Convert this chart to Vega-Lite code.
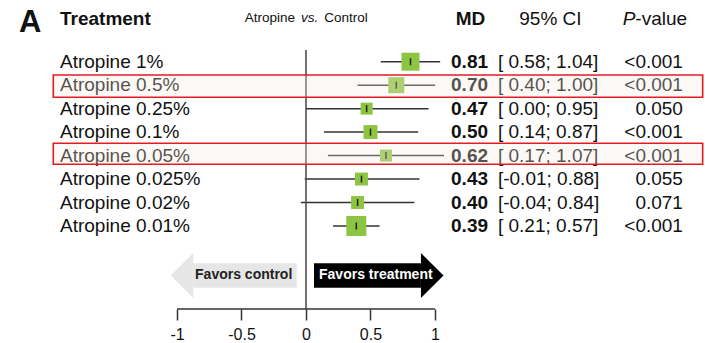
{
  "$schema": "https://vega.github.io/schema/vega-lite/v6.json",
  "width": 705,
  "height": 309,
  "autosize": {"type": "none"},
  "padding": {"left": 0, "top": 0, "right": 0, "bottom": 34},
  "background": "white",
  "config": {
    "view": {"stroke": null},
    "text": {"font": "Liberation Sans"},
    "axis": {"labelFont": "Liberation Sans"}
  },
  "datasets": {
    "rows": [
      {"row": 0, "label": "Atropine 1%", "md": 0.81, "lo": 0.58, "hi": 1.04, "ci": "[ 0.58; 1.04]", "p": "<0.001", "weight": 20.2},
      {"row": 1, "label": "Atropine 0.5%", "md": 0.70, "lo": 0.40, "hi": 1.00, "ci": "[ 0.40; 1.00]", "p": "<0.001", "weight": 16.0},
      {"row": 2, "label": "Atropine 0.25%", "md": 0.47, "lo": 0.00, "hi": 0.95, "ci": "[ 0.00; 0.95]", "p": "0.050", "weight": 9.0},
      {"row": 3, "label": "Atropine 0.1%", "md": 0.50, "lo": 0.14, "hi": 0.87, "ci": "[ 0.14; 0.87]", "p": "<0.001", "weight": 12.2},
      {"row": 4, "label": "Atropine 0.05%", "md": 0.62, "lo": 0.17, "hi": 1.07, "ci": "[ 0.17; 1.07]", "p": "<0.001", "weight": 9.0},
      {"row": 5, "label": "Atropine 0.025%", "md": 0.43, "lo": -0.01, "hi": 0.88, "ci": "[-0.01; 0.88]", "p": "0.055", "weight": 10.5},
      {"row": 6, "label": "Atropine 0.02%", "md": 0.40, "lo": -0.04, "hi": 0.84, "ci": "[-0.04; 0.84]", "p": "0.071", "weight": 10.5},
      {"row": 7, "label": "Atropine 0.01%", "md": 0.39, "lo": 0.21, "hi": 0.57, "ci": "[ 0.21; 0.57]", "p": "<0.001", "weight": 25.0}
    ],
    "arrowBodies": [
      {"side": "control", "x1": -0.874, "x2": -0.072, "top": 8.59, "bot": 9.633},
      {"side": "treatment", "x1": 0.062, "x2": 0.891, "top": 8.59, "bot": 9.633}
    ],
    "arrowHeads": [
      {"side": "control", "x": -1.049, "top": 9.109, "bot": 9.109},
      {"side": "control", "x": -0.874, "top": 8.151, "bot": 10.068},
      {"side": "treatment", "x": 0.891, "top": 8.151, "bot": 10.068},
      {"side": "treatment", "x": 1.066, "top": 9.109, "bot": 9.109}
    ],
    "highlights": [
      {"x1": -1.959, "x2": 3.075, "y1": 0.567, "y2": 1.517},
      {"x1": -1.959, "x2": 3.075, "y1": 3.477, "y2": 4.372}
    ],
    "one": [{}]
  },
  "layer": [
    {
      "data": {"name": "rows"},
      "mark": {"type": "rule", "color": "#333333", "strokeWidth": 1.5},
      "encoding": {
        "x": {
          "field": "lo", "type": "quantitative",
          "scale": {"domain": [-2.372, 3.093], "nice": false, "zero": false},
          "axis": {
            "title": null, "domain": false, "grid": false,
            "values": [-1, -0.5, 0, 0.5, 1],
            "format": "~g",
            "labelExpr": "replace(datum.label, '\u2212', '-')",
            "tickSize": 11, "tickWidth": 1.5, "tickColor": "#333333",
            "labelFontSize": 16, "labelColor": "#111111", "labelPadding": 6,
            "labelFlush": false, "labelOverlap": false
          }
        },
        "x2": {"field": "hi"},
        "y": {"field": "row", "type": "quantitative", "scale": {"domain": [-2.629, 10.537], "reverse": true, "nice": false, "zero": false}, "axis": null}
      }
    },
    {
      "data": {"name": "rows"},
      "mark": {"type": "point", "shape": "square", "filled": true, "color": "#8dc543", "opacity": 1},
      "encoding": {
        "x": {"field": "md", "type": "quantitative", "title": null},
        "y": {"field": "row", "type": "quantitative", "axis": null},
        "size": {"field": "weight", "type": "quantitative", "scale": {"domain": [0, 25], "range": [0, 400], "zero": true}, "legend": null}
      }
    },
    {
      "data": {"name": "rows"},
      "mark": {"type": "tick", "orient": "vertical", "size": 7, "thickness": 1.5, "color": "#222222", "opacity": 1},
      "encoding": {
        "x": {"field": "md", "type": "quantitative", "title": null},
        "y": {"field": "row", "type": "quantitative", "axis": null}
      }
    },
    {
      "data": {"name": "rows"},
      "mark": {"type": "text", "align": "left", "baseline": "middle", "fontSize": 19, "color": "#111111"},
      "encoding": {
        "x": {"datum": -1.907, "type": "quantitative"},
        "y": {"field": "row", "type": "quantitative", "axis": null},
        "text": {"field": "label"}
      }
    },
    {
      "data": {"name": "rows"},
      "mark": {"type": "text", "align": "right", "baseline": "middle", "fontSize": 19, "fontWeight": "bold", "color": "#111111"},
      "encoding": {
        "x": {"datum": 1.411, "type": "quantitative"},
        "y": {"field": "row", "type": "quantitative", "axis": null},
        "text": {"field": "md", "format": ".2f"}
      }
    },
    {
      "data": {"name": "rows"},
      "mark": {"type": "text", "align": "left", "baseline": "middle", "fontSize": 19, "color": "#111111"},
      "encoding": {
        "x": {"datum": 1.488, "type": "quantitative"},
        "y": {"field": "row", "type": "quantitative", "axis": null},
        "text": {"field": "ci"}
      }
    },
    {
      "data": {"name": "rows"},
      "mark": {"type": "text", "align": "right", "baseline": "middle", "fontSize": 19, "color": "#111111"},
      "encoding": {
        "x": {"datum": 2.922, "type": "quantitative"},
        "y": {"field": "row", "type": "quantitative", "axis": null},
        "text": {"field": "p"}
      }
    },
    {
      "data": {"name": "one"},
      "mark": {"type": "rule", "color": "#444444", "strokeWidth": 1.5},
      "encoding": {
        "x": {"datum": 0, "type": "quantitative"},
        "y": {"datum": -0.499, "type": "quantitative", "axis": null},
        "y2": {"datum": 10.537}
      }
    },
    {
      "data": {"name": "one"},
      "mark": {"type": "rule", "color": "#333333", "strokeWidth": 1.5},
      "encoding": {
        "x": {"datum": -1, "type": "quantitative"},
        "x2": {"datum": 1},
        "y": {"datum": 10.537, "type": "quantitative", "axis": null}
      }
    },
    {
      "data": {"name": "arrowBodies"},
      "mark": {"type": "rect", "opacity": 1},
      "encoding": {
        "x": {"field": "x1", "type": "quantitative", "title": null},
        "x2": {"field": "x2"},
        "y": {"field": "top", "type": "quantitative", "axis": null},
        "y2": {"field": "bot"},
        "color": {"field": "side", "type": "nominal", "scale": {"domain": ["control", "treatment"], "range": ["#e6e6e6", "#000000"]}, "legend": null}
      }
    },
    {
      "data": {"name": "arrowHeads"},
      "mark": {"type": "area", "opacity": 1, "orient": "vertical", "interpolate": "linear"},
      "encoding": {
        "x": {"field": "x", "type": "quantitative", "title": null},
        "y": {"field": "top", "type": "quantitative", "axis": null, "stack": null},
        "y2": {"field": "bot"},
        "color": {"field": "side", "type": "nominal", "legend": null}
      }
    },
    {
      "data": {"name": "one"},
      "mark": {"type": "text", "align": "left", "baseline": "middle", "fontSize": 14, "fontWeight": "bold", "color": "#222222"},
      "encoding": {
        "x": {"datum": -0.860, "type": "quantitative"},
        "y": {"datum": 9.109, "type": "quantitative", "axis": null},
        "text": {"value": "Favors control"}
      }
    },
    {
      "data": {"name": "one"},
      "mark": {"type": "text", "align": "left", "baseline": "middle", "fontSize": 14, "fontWeight": "bold", "color": "#ffffff"},
      "encoding": {
        "x": {"datum": 0.101, "type": "quantitative"},
        "y": {"datum": 9.109, "type": "quantitative", "axis": null},
        "text": {"value": "Favors treatment"}
      }
    },
    {
      "data": {"name": "one"},
      "mark": {"type": "text", "align": "left", "baseline": "middle", "fontSize": 31, "fontWeight": "bold", "color": "#111111"},
      "encoding": {
        "x": {"datum": -2.225, "type": "quantitative"},
        "y": {"datum": -1.66, "type": "quantitative", "axis": null},
        "text": {"value": "A"}
      }
    },
    {
      "data": {"name": "one"},
      "mark": {"type": "text", "align": "left", "baseline": "middle", "fontSize": 19, "fontWeight": "bold", "color": "#111111"},
      "encoding": {
        "x": {"datum": -1.907, "type": "quantitative"},
        "y": {"datum": -1.807, "type": "quantitative", "axis": null},
        "text": {"value": "Treatment"}
      }
    },
    {
      "data": {"name": "one"},
      "mark": {"type": "text", "align": "right", "baseline": "middle", "fontSize": 13.5, "color": "#111111"},
      "encoding": {
        "x": {"datum": -0.085, "type": "quantitative"},
        "y": {"datum": -1.849, "type": "quantitative", "axis": null},
        "text": {"value": "Atropine"}
      }
    },
    {
      "data": {"name": "one"},
      "mark": {"type": "text", "align": "left", "baseline": "middle", "fontSize": 13.5, "fontStyle": "italic", "color": "#111111"},
      "encoding": {
        "x": {"datum": -0.039, "type": "quantitative"},
        "y": {"datum": -1.849, "type": "quantitative", "axis": null},
        "text": {"value": "vs."}
      }
    },
    {
      "data": {"name": "one"},
      "mark": {"type": "text", "align": "left", "baseline": "middle", "fontSize": 13.5, "color": "#111111"},
      "encoding": {
        "x": {"datum": 0.142, "type": "quantitative"},
        "y": {"datum": -1.849, "type": "quantitative", "axis": null},
        "text": {"value": "Control"}
      }
    },
    {
      "data": {"name": "one"},
      "mark": {"type": "text", "align": "right", "baseline": "middle", "fontSize": 19, "fontWeight": "bold", "color": "#111111"},
      "encoding": {
        "x": {"datum": 1.39, "type": "quantitative"},
        "y": {"datum": -1.807, "type": "quantitative", "axis": null},
        "text": {"value": "MD"}
      }
    },
    {
      "data": {"name": "one"},
      "mark": {"type": "text", "align": "center", "baseline": "middle", "fontSize": 19, "color": "#111111"},
      "encoding": {
        "x": {"datum": 1.895, "type": "quantitative"},
        "y": {"datum": -1.807, "type": "quantitative", "axis": null},
        "text": {"value": "95% CI"}
      }
    },
    {
      "data": {"name": "one"},
      "mark": {"type": "text", "align": "right", "baseline": "middle", "fontSize": 19, "fontStyle": "italic", "color": "#111111"},
      "encoding": {
        "x": {"datum": 2.553, "type": "quantitative"},
        "y": {"datum": -1.807, "type": "quantitative", "axis": null},
        "text": {"value": "P"}
      }
    },
    {
      "data": {"name": "one"},
      "mark": {"type": "text", "align": "left", "baseline": "middle", "fontSize": 19, "color": "#111111"},
      "encoding": {
        "x": {"datum": 2.553, "type": "quantitative"},
        "y": {"datum": -1.807, "type": "quantitative", "axis": null},
        "text": {"value": "-value"}
      }
    },
    {
      "data": {"name": "highlights"},
      "mark": {"type": "rect", "fill": "#f5e8de", "fillOpacity": 0.3, "stroke": "#e31b23", "strokeOpacity": 1, "strokeWidth": 1.6},
      "encoding": {
        "x": {"field": "x1", "type": "quantitative", "title": null},
        "x2": {"field": "x2"},
        "y": {"field": "y1", "type": "quantitative", "axis": null},
        "y2": {"field": "y2"}
      }
    }
  ]
}
